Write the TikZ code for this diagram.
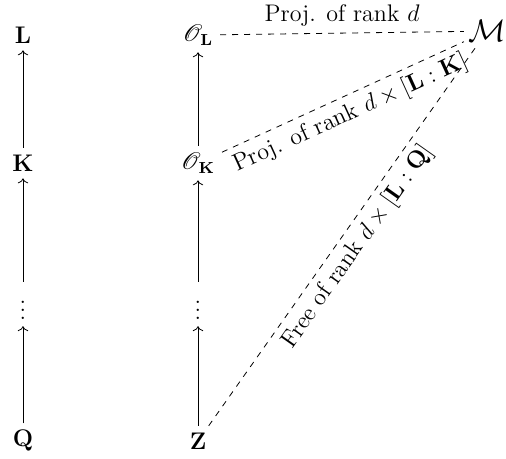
\documentclass[tikz,border=0pt,12pt]{standalone}
\usepackage{amsmath,amssymb}
\usepackage{mathrsfs}
\usepackage{graphicx}
\usetikzlibrary{arrows.meta, positioning}

\begin{document}
\begin{tikzpicture}[
    obj/.style={
        inner sep=3.3pt
    },
    up arrow/.style={
        -{To},
        line width=0.4pt
    },
    module link/.style={
        dashed,
        line width=0.4pt
    },
    link label/.style={
        inner sep=3pt
    },
    on grid
]

\useasboundingbox (0,0) rectangle (8.893,8.067);

% top row
\node[obj] (L) at (0.404,7.45) {$\mathbf{L}$};
\node[obj, right=3.076cm of L] (OL) {$\mathscr{O}_{\mathbf{L}}$};
\node[obj, right=5.08cm of OL, yshift=0.07cm, inner sep=2pt] (M) {\scalebox{1.3}{$\mathcal{M}$}};

% middle rows
\node[obj, below=2.25cm of L] (K) {$\mathbf{K}$};
\node[obj, below=2.25cm of OL] (OK) {$\mathscr{O}_{\mathbf{K}}$};
\node[obj, below=2.476cm of K] (dotsA) {$\vdots$};
\node[obj, below=2.476cm of OK] (dotsB) {$\vdots$};

% bottom row
\node[obj, below=2.408cm of dotsA] (Q) {$\mathbf{Q}$};
\node[obj, below=2.408cm of dotsB] (Z) {$\mathbf{Z}$};

\draw[up arrow] (K) -- (L);
\draw[up arrow] (dotsA) -- (K);
\draw[up arrow] (Q) -- (dotsA);
\draw[up arrow] (OK) -- (OL);
\draw[up arrow] (dotsB) -- (OK);
\draw[up arrow] (Z) -- (dotsB);

\draw[module link] (OL) -- node[link label, above] {Proj. of rank $d$} (M);
\draw[module link] (OK) -- node[link label, below, sloped] {Proj. of rank $d \times [\mathbf{L}:\mathbf{K}]$} (M);
\draw[module link] (Z) -- node[link label, below, sloped] {Free of rank $d \times [\mathbf{L}:\mathbf{Q}]$} (M);

\end{tikzpicture}
\end{document}
